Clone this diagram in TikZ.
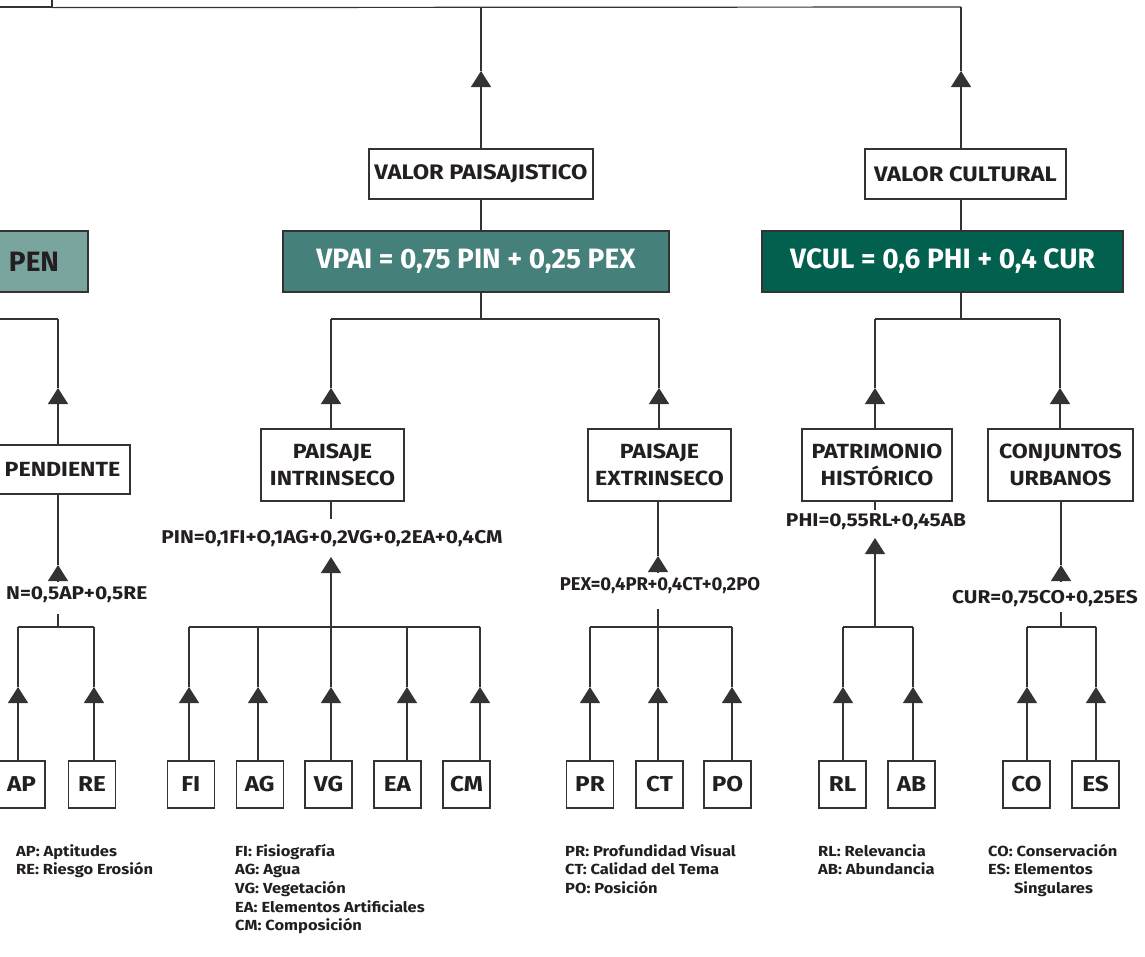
\documentclass[tikz,border=0pt]{standalone}
\usepackage{fontspec}
\setmainfont{Fira Sans}
\newfontfamily\widesans{Fira Sans}[FakeStretch=1.13]
\usetikzlibrary{arrows.meta}
\definecolor{ink}{HTML}{231F20}
\definecolor{linec}{HTML}{333333}
\definecolor{penfill}{HTML}{7AA59E}
\definecolor{vpaifill}{HTML}{45807A}
\definecolor{vculfill}{HTML}{02604F}
\begin{document}
\begin{tikzpicture}[x=1pt,y=-1pt,
  ln/.style={draw=linec, line width=1.2pt},
  arw/.style={ln, -{Triangle[length=16pt,width=20pt]}},
  box/.style={draw=linec, line width=1.2pt, fill=white, inner sep=0pt, align=center, text=ink,
    font=\widesans\bfseries\fontsize{20.5}{27}\selectfont},
  head/.style={box, minimum height=50pt, font=\widesans\bfseries\fontsize{21}{25}\selectfont},
  calcbox/.style={box, minimum height=61pt, font=\bfseries\fontsize{28}{32}\selectfont},
  mid/.style={box, minimum height=72pt},
  leaf/.style={box, minimum width=47pt, minimum height=47pt, font=\widesans\bfseries\fontsize{21.5}{25}\selectfont},
  formula/.style={inner sep=0pt, text=ink, font=\widesans\bfseries\fontsize{18.5}{22}\selectfont},
  narrowformula/.style={inner sep=0pt, text=ink, font=\bfseries\fontsize{18.5}{22}\selectfont},
  legend/.style={inner sep=0pt, anchor=base west, text=ink, font=\widesans\bfseries\fontsize{14.6}{18.7}\selectfont},
]
\useasboundingbox (0,0) rectangle (1145,956);

% ---------- upper level ----------
\node[draw=linec, line width=1.2pt, fill=white, inner sep=0pt, minimum width=72pt, minimum height=34pt] (topleft) at (16,-10) {};
\node[head, minimum width=224pt] (VP) at (481,174) {VALOR PAISAJISTICO};
\node[head, minimum width=201pt] (VC) at (965.5,174) {VALOR CULTURAL};

\coordinate (topVP) at (481,7);
\coordinate (topVC) at (961,7);
\coordinate (tVP) at (481,71);
\coordinate (tVC) at (961,71);

\draw[ln] (topleft.south east) -- (topVC);
\draw[arw] (VP.north) -- (tVP);
\draw[ln] (tVP) -- (topVP);
\draw[arw] (VC.north -| tVC) -- (tVC);
\draw[ln] (tVC) -- (topVC);

% ---------- index formulas ----------
\node[calcbox, fill=penfill, minimum width=108pt] (PEN) at (34,261.5) {PEN};
\node[calcbox, fill=vpaifill, text=white, minimum width=386pt] (VPAI) at (476,261.5) {VPAI = 0,75 PIN + 0,25 PEX};
\node[calcbox, fill=vculfill, text=white, minimum width=361pt] (VCUL) at (942.5,261.5) {VCUL = 0,6 PHI + 0,4 CUR};

\draw[ln] (VP.south) -- (VP.south |- VPAI.north);
\draw[ln] (VC.south -| tVC) -- (VCUL.north -| tVC);

% ---------- second level ----------
\node[box, minimum width=135pt, minimum height=49pt] (PD) at (62.5,469.5) {PENDIENTE};
\node[mid, minimum width=143pt] (PI) at (332.5,465) {PAISAJE\\INTRINSECO};
\node[mid, minimum width=143pt] (PE) at (659.5,465) {PAISAJE\\EXTRINSECO};
\node[mid, minimum width=150pt] (PH) at (877,465) {PATRIMONIO\\HISTÓRICO};
\node[mid, minimum width=145pt] (CU) at (1060.5,465) {CONJUNTOS\\URBANOS};

% buses under the index boxes
\coordinate (bPENl) at (-10,319);
\coordinate (bPD) at (58,319);
\coordinate (bVPAI) at (481,319);
\coordinate (bPI) at (331,319);
\coordinate (bPE) at (659,319);
\coordinate (bVCUL) at (961,319);
\coordinate (bPH) at (875,319);
\coordinate (bCU) at (1060,319);

\draw[ln] (bPENl) -- (bPD);
\draw[ln] (VPAI.south -| bVPAI) -- (bVPAI);
\draw[ln] (bPI) -- (bPE);
\draw[ln] (VCUL.south -| bVCUL) -- (bVCUL);
\draw[ln] (bPH) -- (bCU);

\foreach \n/\b in {PD/bPD, PI/bPI, PE/bPE, PH/bPH, CU/bCU}{
  \coordinate (t\n) at ([yshift=-69pt]\b);
  \draw[arw] (\n.north -| \b) -- (t\n);
  \draw[ln] (t\n) -- (\b);
}

% ---------- sub-index formulas ----------
\node[formula, anchor=west] (fN) at (6,595) {N=0,5AP+0,5RE};
\node[formula] (fPIN) at (332,539) {PIN=0,1FI+O,1AG+0,2VG+0,2EA+0,4CM};
\node[narrowformula] (fPEX) at (660,586) {PEX=0,4PR+0,4CT+0,2PO};
\node[formula] (fPHI) at (876,521.5) {PHI=0,55RL+0,45AB};
\node[formula] (fCUR) at (1045,598.5) {CUR=0,75CO+0,25ES};

% ---------- leaves ----------
\foreach \n/\x in {AP/21.5, RE/92, FI/190.8, AG/259.7, VG/328.5, EA/397.5, CM/466.5,
                   PR/590, CT/659.5, PO/727.5, RL/842.5, AB/911.5, CO/1026.5, ES/1095.5}{
  \node[leaf] (\n) at (\x,784.5) {\n};
}

% leaf stems: name / stem x
\foreach \n/\x in {AP/18, RE/94, FI/189, AG/258, VG/331, EA/407, CM/480,
                   PR/590, CT/658, PO/732, RL/843, AB/913, CO/1027, ES/1096}{
  \coordinate (s\n) at (\x,627);
  \coordinate (a\n) at (\x,687);
  \draw[arw] (\n.north -| s\n) -- (a\n);
  \draw[ln] (a\n) -- (s\n);
}

% group buses
\draw[ln] (sAP) -- (sRE);
\draw[ln] (sFI) -- (sCM);
\draw[ln] (sPR) -- (sPO);
\draw[ln] (sRL) -- (sAB);
\draw[ln] (sCO) -- (sES);

% PENDIENTE group
\coordinate (kN) at (58,627);
\coordinate (hN) at (58,565);
\coordinate (gN) at (58,581);
\draw[ln] (PD.south -| hN) -- (hN);
\draw[arw] (gN) -- (hN);
\draw[ln] (kN) -- (58,614);

% PIN group
\coordinate (hPIN) at (331,557);
\draw[ln] (PI.south -| hPIN) -- (331,519);
\draw[arw] (aVG) -- (hPIN);

% PEX group
\coordinate (hPEX) at (658,556);
\coordinate (gPEX) at (658,572);
\draw[ln] (PE.south -| hPEX) -- (hPEX);
\draw[arw] (gPEX) -- (hPEX);
\draw[ln] (sCT) -- (658,609);

% PHI group
\coordinate (hPHI) at (875,538);
\coordinate (kPHI) at (875,627);
\draw[ln] (PH.south -| hPHI) -- (875,510);
\draw[arw] (kPHI) -- (hPHI);

% CUR group
\coordinate (hCUR) at (1061,565);
\coordinate (gCUR) at (1061,581);
\coordinate (kCUR) at (1061,627);
\draw[ln] (CU.south -| hCUR) -- (hCUR);
\draw[arw] (gCUR) -- (hCUR);
\draw[ln] (kCUR) -- (1061,612);

% ---------- legends ----------
\node[legend] (lgA) at (16,856) {\begin{tabular}[t]{@{}l@{}}AP: Aptitudes\\RE: Riesgo Erosión\end{tabular}};
\node[legend] (lgB) at (235,856) {\begin{tabular}[t]{@{}l@{}}FI: Fisiografía\\AG: Agua\\VG: Vegetación\\EA: Elementos Artificiales\\CM: Composición\end{tabular}};
\node[legend] (lgC) at (565,856) {\begin{tabular}[t]{@{}l@{}}PR: Profundidad Visual\\CT: Calidad del Tema\\PO: Posición\end{tabular}};
\node[legend] (lgD) at (818,856) {\begin{tabular}[t]{@{}l@{}}RL: Relevancia\\AB: Abundancia\end{tabular}};
\node[legend] (lgE) at (988,856) {\begin{tabular}[t]{@{}l@{}}CO: Conservación\\ES: Elementos\\\hphantom{ES:\ }Singulares\end{tabular}};
\end{tikzpicture}
\end{document}
